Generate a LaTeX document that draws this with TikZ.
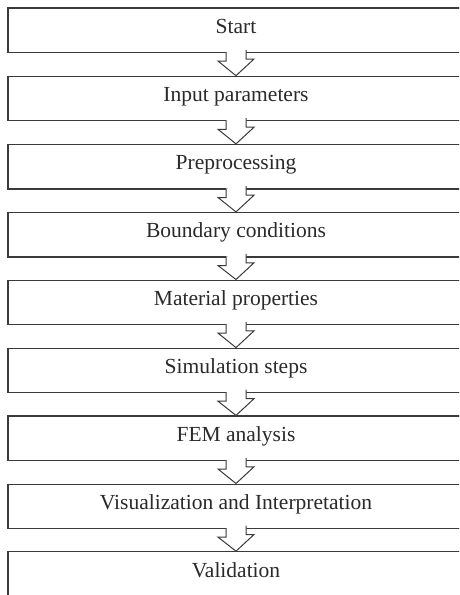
\documentclass[tikz,border=0pt]{standalone}
\usepackage{fontspec}
\setmainfont{Liberation Serif}
\usetikzlibrary{calc}
\definecolor{ln}{HTML}{3A3A3A}
\definecolor{tx}{HTML}{2A2A2A}
\tikzset{
  stepbox/.style={draw=ln, line width=1.1pt, minimum width=456pt, minimum height=44.5pt, inner sep=0pt, text=tx, font=\fontsize{21.5}{24}\selectfont, text height=0.68em, text depth=0.04em, anchor=center},
  flowarrow/.style={draw=ln, fill=white, line width=1pt, line join=miter}
}
\begin{document}
\begin{tikzpicture}[x=1pt,y=-1pt]
\useasboundingbox (0,0) rectangle (459,595);
\clip (0,0) rectangle (459,595);
\fill[white] (0,0) rectangle (459,595);
\node[stepbox] (b0) at (236,30.25) {Start};
\node[stepbox] (b1) at (236,98.5) {Input parameters};
\node[stepbox] (b2) at (236,166.7) {Preprocessing};
\node[stepbox] (b3) at (236,234.7) {Boundary conditions};
\node[stepbox] (b4) at (236,302.3) {Material properties};
\node[stepbox] (b5) at (236,370.4) {Simulation steps};
\node[stepbox] (b6) at (236,438.2) {FEM analysis};
\node[stepbox] (b7) at (236,506.3) {Visualization and Interpretation};
\node[stepbox] (b8) at (236,574) {Validation};
\foreach \a/\b in {b0/b1,b1/b2,b2/b3,b3/b4,b4/b5,b5/b6,b6/b7,b7/b8}{
  \path[flowarrow] ([xshift=-10pt,yshift=1pt]\a.south) -- ++(0,9) -- ++(-8,0) -- (\b.north) -- ++(18,-16.7) -- ++(-8,0) -- ++(0,-9);
}
\end{tikzpicture}
\end{document}
